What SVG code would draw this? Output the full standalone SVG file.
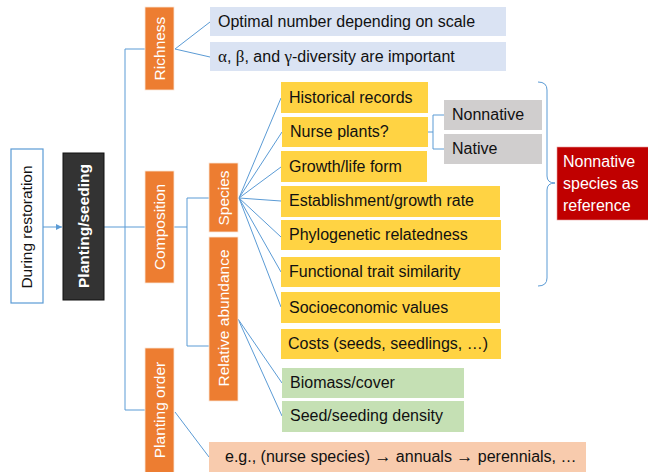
<svg xmlns="http://www.w3.org/2000/svg" width="648" height="472" viewBox="0 0 648 472">
<defs>
<style>
.t{font-family:"Liberation Sans",Arial,sans-serif;font-size:16px;fill:#111}
.v{font-size:15.5px}
.w{fill:#fff}
.g{font-family:"Liberation Serif","Times New Roman",serif}
.c{fill:none;stroke:#5b9bd5;stroke-width:1}
.org{fill:#ed7d31;stroke:#fbe5d6;stroke-width:0.8}
.yel{fill:#ffd343}
.grn{fill:#c5e0b4}
.blu{fill:#dae3f3}
.gry{fill:#d0cece}
</style>
<marker id="ah" viewBox="0 0 10 10" refX="10" refY="5" markerWidth="6" markerHeight="6" orient="auto">
<path d="M0,0 L10,5 L0,10 z" fill="#5b9bd5"/>
</marker>
</defs>
<rect width="648" height="472" fill="#fff"/>

<g id="connectors">
<line class="c" x1="43" y1="227" x2="62" y2="227" marker-end="url(#ah)"/>
<line class="c" x1="104" y1="227" x2="145" y2="227"/>
<polyline class="c" points="145,49 125,49 125,410 145,410"/>
<line class="c" x1="174" y1="227" x2="187" y2="227"/>
<polyline class="c" points="209,198 187,198 187,346 209,346"/>
<line class="c" x1="175" y1="49" x2="210" y2="22"/>
<line class="c" x1="175" y1="49" x2="210" y2="57"/>
<line class="c" x1="239" y1="198" x2="281" y2="98"/>
<line class="c" x1="239" y1="198" x2="282" y2="132"/>
<line class="c" x1="239" y1="198" x2="281" y2="167"/>
<line class="c" x1="239" y1="198" x2="281" y2="201"/>
<line class="c" x1="239" y1="198" x2="281" y2="237"/>
<line class="c" x1="239" y1="198" x2="281" y2="272"/>
<line class="c" x1="239" y1="198" x2="281" y2="307"/>
<line class="c" x1="238" y1="319" x2="282" y2="383"/>
<line class="c" x1="238" y1="319" x2="282" y2="416"/>
<line class="c" x1="175" y1="412" x2="209" y2="457"/>
<polyline class="c" points="428,132 433,132"/>
<polyline class="c" points="444,115 433,115 433,149 444,149"/>
<path class="c" d="M538,82 Q547,82 547,90 L547,176 Q547,183 555,183 Q547,183 547,190 L547,278 Q547,286 538,286"/>
</g>

<g id="during-restoration">
<rect x="11" y="149" width="32" height="154" fill="#fff" stroke="#5b9bd5" stroke-width="1.2"/>
<text class="t v" transform="translate(32,227) rotate(-90)" text-anchor="middle">During restoration</text>
</g>

<g id="planting-seeding">
<rect x="63" y="153" width="41" height="147" fill="#333" stroke="#111" stroke-width="1"/>
<text class="t v w" font-weight="bold" transform="translate(89,226) rotate(-90)" text-anchor="middle">Planting/seeding</text>
</g>

<g id="richness">
<rect class="org" x="145" y="7" width="29" height="83"/>
<text class="t v w" transform="translate(165,48.5) rotate(-90)" text-anchor="middle">Richness</text>
</g>

<g id="composition">
<rect class="org" x="145" y="171" width="29" height="112"/>
<text class="t v w" transform="translate(165,227) rotate(-90)" text-anchor="middle">Composition</text>
</g>

<g id="planting-order">
<rect class="org" x="145" y="348" width="29" height="126"/>
<text class="t v w" transform="translate(165,410) rotate(-90)" text-anchor="middle">Planting order</text>
</g>

<g id="species">
<rect class="org" x="209" y="163" width="29" height="69"/>
<text class="t v w" transform="translate(229,198) rotate(-90)" text-anchor="middle">Species</text>
</g>

<g id="relative-abundance">
<rect class="org" x="209" y="237" width="29" height="164"/>
<text class="t v w" transform="translate(229,318) rotate(-90)" text-anchor="middle">Relative abundance</text>
</g>

<g id="optimal-number">
<rect class="blu" x="210" y="7" width="296" height="29"/>
<text class="t" x="218" y="27">Optimal number depending on scale</text>
</g>

<g id="diversity">
<rect class="blu" x="210" y="42" width="296" height="29"/>
<text class="t" x="218" y="62"><tspan class="g" font-size="17">α</tspan>, <tspan class="g" font-size="17">β</tspan>, and <tspan class="g" font-size="17">γ</tspan>-diversity are important</text>
</g>

<g id="historical-records">
<rect class="yel" x="281" y="82" width="147" height="31"/>
<text class="t" x="289" y="103">Historical records</text>
</g>

<g id="nurse-plants">
<rect class="yel" x="282" y="117" width="146" height="30"/>
<text class="t" x="290" y="137">Nurse plants?</text>
</g>

<g id="growth-life-form">
<rect class="yel" x="281" y="151" width="146" height="31"/>
<text class="t" x="289" y="172">Growth/life form</text>
</g>

<g id="establishment">
<rect class="yel" x="281" y="186" width="219" height="31"/>
<text class="t" x="289" y="206">Establishment/growth rate</text>
</g>

<g id="phylogenetic">
<rect class="yel" x="281" y="220" width="220" height="30"/>
<text class="t" x="289" y="240">Phylogenetic relatedness</text>
</g>

<g id="functional-trait">
<rect class="yel" x="281" y="257" width="219" height="30"/>
<text class="t" x="289" y="277">Functional trait similarity</text>
</g>

<g id="socioeconomic">
<rect class="yel" x="281" y="292" width="219" height="31"/>
<text class="t" x="289" y="313">Socioeconomic values</text>
</g>

<g id="costs">
<rect class="yel" x="281" y="329" width="220" height="30"/>
<text class="t" x="288" y="349">Costs (seeds, seedlings, …)</text>
</g>

<g id="biomass">
<rect class="grn" x="282" y="368" width="182" height="30"/>
<text class="t" x="290" y="388">Biomass/cover</text>
</g>

<g id="seed-density">
<rect class="grn" x="282" y="401" width="182" height="31"/>
<text class="t" x="290" y="421">Seed/seeding density</text>
</g>

<g id="planting-order-example">
<rect x="209" y="442" width="377" height="32" fill="#f8cbad"/>
<text class="t" x="225" y="462">e.g., (nurse species) <tspan class="g" font-size="17">→</tspan> annuals <tspan class="g" font-size="17">→</tspan> perennials, …</text>
</g>

<g id="nonnative">
<rect class="gry" x="444" y="100" width="98" height="30"/>
<text class="t" x="452" y="120">Nonnative</text>
</g>

<g id="native">
<rect class="gry" x="444" y="134" width="98" height="30"/>
<text class="t" x="452" y="154">Native</text>
</g>

<g id="nonnative-reference">
<rect x="557" y="147" width="93" height="73" fill="#c00000" stroke="#e8a0a0" stroke-width="0.6"/>
<text class="t w" x="563" y="167">Nonnative</text>
<text class="t w" x="563" y="189">species as</text>
<text class="t w" x="563" y="211">reference</text>
</g>
</svg>
